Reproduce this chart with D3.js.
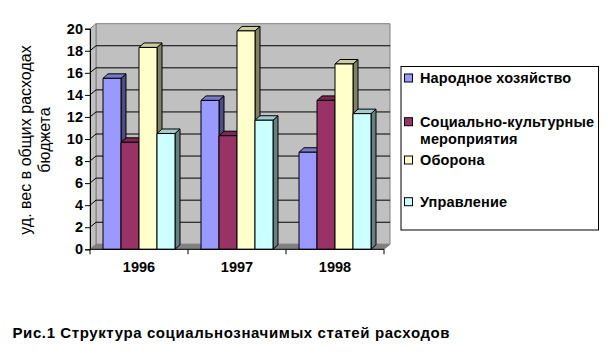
<!DOCTYPE html>
<html><head><meta charset="utf-8">
<script src="https://cdn.jsdelivr.net/npm/d3@7"></script>
<style>body{margin:0;background:#fff}svg{display:block}text{font-family:"Liberation Sans",Arial,sans-serif}</style>
</head><body><div id="chart"></div>
<script>
const categories = ["1996", "1997", "1998"];
const seriesNames = ["Народное хозяйство", "Социально-культурные мероприятия", "Оборона", "Управление"];
const legendLines = [["Народное хозяйство"], ["Социально-культурные", "мероприятия"], ["Оборона"], ["Управление"]];
const narodnoe = [15.5, 13.5, 8.8];
const socialnoe = [9.7, 10.3, 13.5];
const oborona = [18.3, 19.8, 16.8];
const upravlenie = [10.5, 11.7, 12.3];
const yTicks = [0, 2, 4, 6, 8, 10, 12, 14, 16, 18, 20];
const yTitle = ["уд. вес в общих расходах", "бюджета"];
const chartTitle = "Рис.1 Структура социальнозначимых статей расходов";

const values = [narodnoe, socialnoe, oborona, upravlenie];
const front = ["#9999FF", "#993366", "#FFFFCC", "#CCFFFF"];
const side = ["#4d4d80", "#4d1a33", "#808066", "#668080"];
const top_ = ["#7a7acc", "#7a2952", "#cccca3", "#a3cccc"];

const W = 608, H = 355;
const svg = d3.select("#chart").append("svg").attr("width", W).attr("height", H);
svg.append("rect").attr("width", W).attr("height", H).attr("fill", "#fff");

const X0 = 90, X1 = 384, DX = 6, DY = -5;
const y = d3.scaleLinear().domain([0, 20]).range([249.3, 28.7]);
const x = d3.scaleBand().domain(categories).range([X0, X1]).padding(0);
const xs = d3.scaleBand().domain(d3.range(4)).range([13, x.bandwidth() - 13]).padding(0);
const yb = y(0), yt = y(20);
const line = d3.line();

// walls
svg.append("path").attr("d", line([[X0 + DX, yt + DY], [X1 + DX, yt + DY], [X1 + DX, yb + DY], [X0 + DX, yb + DY]]) + "Z")
  .attr("fill", "#c0c0c0").attr("stroke", "#808080");
svg.append("path").attr("d", line([[X0, yt], [X0 + DX, yt + DY], [X0 + DX, yb + DY], [X0, yb]]) + "Z")
  .attr("fill", "#c0c0c0").attr("stroke", "#808080");
svg.append("path").attr("d", line([[X0, yb], [X1, yb], [X1 + DX, yb + DY], [X0 + DX, yb + DY]]) + "Z")
  .attr("fill", "#808080").attr("stroke", "#808080");

// gridlines
yTicks.filter(v => v > 0 && v < 20).forEach(v => {
  svg.append("path").attr("d", line([[X0, y(v)], [X0 + DX, y(v) + DY], [X1 + DX, y(v) + DY]]))
    .attr("fill", "none").attr("stroke", "#000").attr("stroke-width", 1);
});

// bars
const BDX = 5, BDY = -4.5;
categories.forEach((c, ci) => {
  values.forEach((s, si) => {
    const v = s[ci];
    const x0 = x(c) + xs(si), w = xs.bandwidth();
    const y0 = y(v), y1 = y(0);
    const g = svg.append("g").attr("stroke", "#000").attr("stroke-width", 1).attr("stroke-linejoin", "round");
    g.append("path").attr("d", line([[x0 + w, y0], [x0 + w + BDX, y0 + BDY], [x0 + w + BDX, y1 + BDY], [x0 + w, y1]]) + "Z").attr("fill", side[si]);
    g.append("path").attr("d", line([[x0, y0], [x0 + BDX, y0 + BDY], [x0 + w + BDX, y0 + BDY], [x0 + w, y0]]) + "Z").attr("fill", top_[si]);
    g.append("rect").attr("x", x0).attr("y", y0).attr("width", w).attr("height", y1 - y0).attr("fill", front[si]);
  });
});

// axes
const ya = svg.append("g").attr("transform", `translate(${X0},0)`)
  .call(d3.axisLeft(y).tickValues(yTicks).tickSize(5).tickPadding(2).tickFormat(d3.format("d")));
ya.select(".domain").attr("stroke", "#000");
ya.selectAll(".tick line").attr("stroke", "#000");
ya.selectAll("text").attr("font-size", 14.5).attr("font-weight", "bold").attr("fill", "#000")
  .attr("font-family", '"Liberation Sans",Arial,sans-serif');

svg.append("line").attr("x1", X0).attr("x2", X1).attr("y1", yb).attr("y2", yb).attr("stroke", "#000");
[X0, ...categories.map(c => x(c) + x.bandwidth())].forEach(px => {
  svg.append("line").attr("x1", px).attr("x2", px).attr("y1", yb).attr("y2", yb + 5).attr("stroke", "#000");
});
categories.forEach(c => {
  svg.append("text").attr("x", x(c) + x.bandwidth() / 2).attr("y", 272).attr("text-anchor", "middle")
    .attr("font-size", 14.5).attr("font-weight", "bold").text(c);
});

// y title
yTitle.forEach((t, i) => {
  svg.append("text").attr("transform", `translate(${31 + i * 19},140) rotate(-90)`)
    .attr("text-anchor", "middle").attr("font-size", 16).text(t);
});

// legend
svg.append("rect").attr("x", 401).attr("y", 66.5).attr("width", 197.5).attr("height", 163.5)
  .attr("fill", "#fff").attr("stroke", "#000");
const legendY = [78, 121.7, 160, 201.7];
legendLines.forEach((lines, i) => {
  svg.append("rect").attr("x", 404.5).attr("y", legendY[i] - 4).attr("width", 8).attr("height", 8)
    .attr("fill", front[i]).attr("stroke", "#000");
  lines.forEach((t, j) => {
    svg.append("text").attr("x", 420).attr("y", legendY[i] + 5 + j * 17.3)
      .attr("font-size", 14.5).attr("letter-spacing", 0.15).attr("font-weight", "bold").text(t);
  });
});

// title
svg.append("text").attr("x", 12.5).attr("y", 337.5).attr("font-size", 15).attr("letter-spacing", 0.6)
  .attr("font-weight", "bold").text(chartTitle);
</script></body></html>
